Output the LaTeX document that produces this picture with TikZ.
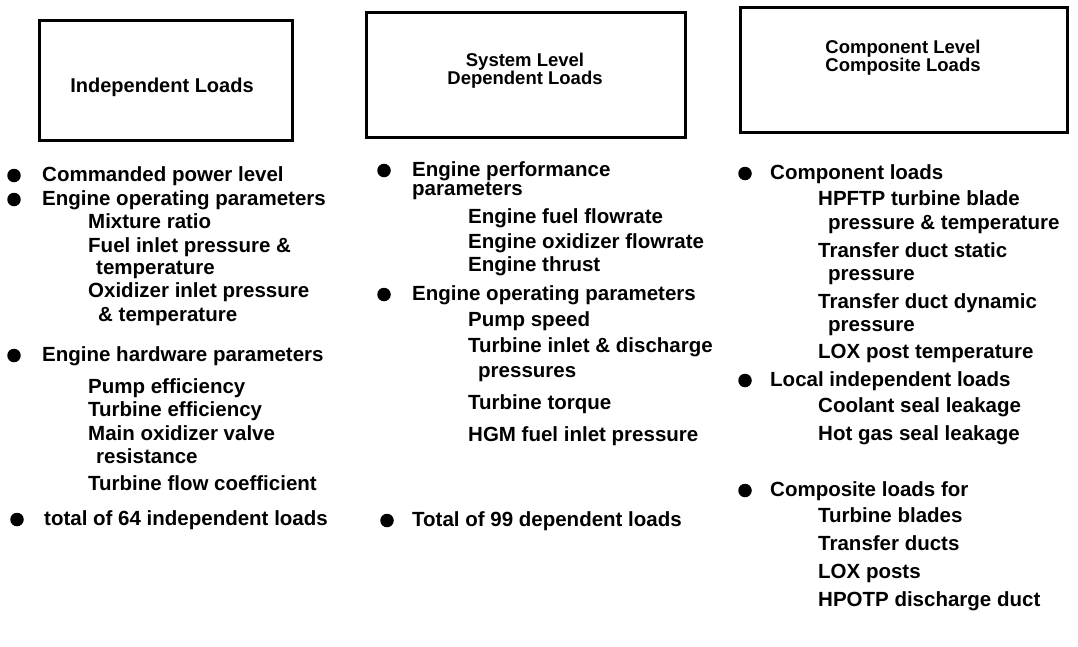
\documentclass[tikz,border=0pt]{standalone}
\usepackage{fontspec}
\setmainfont{Liberation Sans}
\begin{document}
\begin{tikzpicture}[x=1pt,y=-1pt,
  titlebox/.style={draw=black, line width=3pt, inner sep=0pt},
  ttl/.style={font=\bfseries\fontsize{18.5}{18}\selectfont, align=center, inner sep=0pt},
  itm/.style={anchor=base west, inner sep=0pt, font=\bfseries\fontsize{20.5}{24}\selectfont},
  bul/.style={circle, fill=black, inner sep=0pt, minimum size=13.5pt}]
\useasboundingbox (0,0) rectangle (1078,646);

% ---------- boxes ----------
\node[titlebox, minimum width=253pt, minimum height=120pt] (box1) at (165.5,80) {};
\node[titlebox, minimum width=319pt, minimum height=125pt] (box2) at (525.5,74.5) {};
\node[titlebox, minimum width=327pt, minimum height=125pt] (box3) at (903.5,69.5) {};

\node[ttl, font=\bfseries\fontsize{20}{20}\selectfont] (t1) at (162,87) {Independent Loads};
\node[ttl] (t2) at (525,71) {System Level\\Dependent Loads};
\node[ttl] (t3) at (903,58) {Component Level\\Composite Loads};

% ---------- column 1 ----------
\node[bul] (b1a) at (14,175.5) {};
\node[itm] (c1a) at (42,181) {Commanded power level};
\node[bul] (b1b) at (14,199.5) {};
\node[itm] (c1b) at (42,205) {Engine operating parameters};
\node[itm] (c1c) at (88,228) {Mixture ratio};
\node[itm] (c1d) at (88,252) {Fuel inlet pressure \&};
\node[itm] (c1e) at (96,274) {temperature};
\node[itm] (c1f) at (88,297) {Oxidizer inlet pressure};
\node[itm] (c1g) at (98,321) {\& temperature};
\node[bul] (b1h) at (14,355.5) {};
\node[itm] (c1h) at (42,361) {Engine hardware parameters};
\node[itm] (c1i) at (88,393) {Pump efficiency};
\node[itm] (c1j) at (88,416) {Turbine efficiency};
\node[itm] (c1k) at (88,440) {Main oxidizer valve};
\node[itm] (c1l) at (96,463) {resistance};
\node[itm] (c1m) at (88,490) {Turbine flow coefficient};
\node[bul] (b1n) at (17,519.5) {};
\node[itm] (c1n) at (44,525) {total of 64 independent loads};

% ---------- column 2 ----------
\node[bul] (b2a) at (384,170.5) {};
\node[itm] (c2a) at (412,176) {Engine performance};
\node[itm] (c2b) at (412,195) {parameters};
\node[itm] (c2c) at (468,223) {Engine fuel flowrate};
\node[itm] (c2d) at (468,248) {Engine oxidizer flowrate};
\node[itm] (c2e) at (468,271) {Engine thrust};
\node[bul] (b2f) at (384,294.5) {};
\node[itm] (c2f) at (412,300) {Engine operating parameters};
\node[itm] (c2g) at (468,326) {Pump speed};
\node[itm] (c2h) at (468,352) {Turbine inlet \& discharge};
\node[itm] (c2i) at (478,377) {pressures};
\node[itm] (c2j) at (468,409) {Turbine torque};
\node[itm] (c2k) at (468,441) {HGM fuel inlet pressure};
\node[bul] (b2l) at (387,520.5) {};
\node[itm] (c2l) at (412,526) {Total of 99 dependent loads};

% ---------- column 3 ----------
\node[bul] (b3a) at (745,173.5) {};
\node[itm] (c3a) at (770,179) {Component loads};
\node[itm] (c3b) at (818,205) {HPFTP turbine blade};
\node[itm] (c3c) at (828,229) {pressure \& temperature};
\node[itm] (c3d) at (818,257) {Transfer duct static};
\node[itm] (c3e) at (828,280) {pressure};
\node[itm] (c3f) at (818,308) {Transfer duct dynamic};
\node[itm] (c3g) at (828,331) {pressure};
\node[itm] (c3h) at (818,358) {LOX post temperature};
\node[bul] (b3i) at (745,380.5) {};
\node[itm] (c3i) at (770,386) {Local independent loads};
\node[itm] (c3j) at (818,412) {Coolant seal leakage};
\node[itm] (c3k) at (818,440) {Hot gas seal leakage};
\node[bul] (b3l) at (745,490.5) {};
\node[itm] (c3l) at (770,496) {Composite loads for};
\node[itm] (c3m) at (818,522) {Turbine blades};
\node[itm] (c3n) at (818,550) {Transfer ducts};
\node[itm] (c3o) at (818,578) {LOX posts};
\node[itm] (c3p) at (818,606) {HPOTP discharge duct};
\end{tikzpicture}
\end{document}
